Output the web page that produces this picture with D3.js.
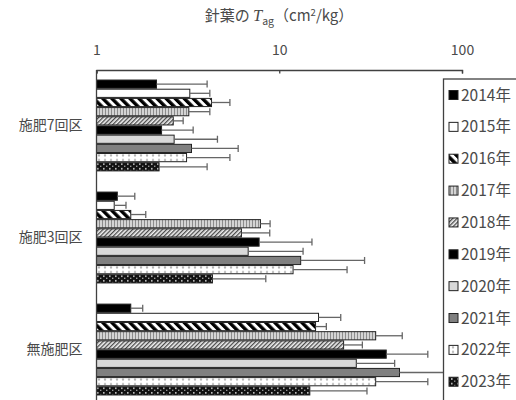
<!DOCTYPE html>
<html><head><meta charset="utf-8">
<script src="https://cdn.jsdelivr.net/npm/d3@7"></script>
<style>
body{margin:0;background:#fff;}
text{font-family:"Noto Sans CJK JP","Noto Sans",sans-serif;fill:#4a4a4a;}
</style></head><body>
<svg id="c" width="516" height="400"></svg>
<script>
const groups = ["施肥7回区","施肥3回区","無施肥区"];
const years = ["2014年","2015年","2016年","2017年","2018年","2019年","2020年","2021年","2022年","2023年"];
const mean7 = [2.13, 3.24, 4.26, 3.2, 2.63, 2.27, 2.66, 3.31, 3.11, 2.2];
const err7  = [1.9, 0.93, 1.11, 0.97, 0.35, 1.11, 1.93, 2.65, 2.26, 1.83];
const mean3 = [1.30, 1.25, 1.54, 7.89, 6.21, 7.76, 6.76, 13.1, 11.9, 4.31];
const err3  = [0.32, 0.2, 0.32, 1.02, 2.66, 7.34, 6.74, 16.2, 11.6, 4.13];
const mean0 = [1.54, 16.4, 15.8, 33.7, 22.5, 38.5, 26.4, 45.5, 33.7, 14.7];
const err0  = [0.25, 5.3, 2.3, 13.4, 6.0, 26.5, 16.4, 34.7, 31.3, 15.5];
const tickVals = [1, 10, 100];

const means = [mean7, mean3, mean0];
const errs = [err7, err3, err0];
const fills = ["#000","#fff","url(#p2016)","url(#p2017)","url(#p2018)","#000","#d9d9d9","#808080","url(#p2022)","url(#p2023)"];

const svg = d3.select("#c");
const defs = svg.append("defs");
let p = defs.append("pattern").attr("id","p2016").attr("patternUnits","userSpaceOnUse")
  .attr("width",6.4).attr("height",6.4).attr("patternTransform","rotate(-45)");
p.append("rect").attr("width",6.4).attr("height",6.4).attr("fill","#fff");
p.append("rect").attr("width",3.4).attr("height",6.4).attr("fill","#000");
p = defs.append("pattern").attr("id","p2017").attr("patternUnits","userSpaceOnUse")
  .attr("width",3).attr("height",3);
p.append("rect").attr("width",3).attr("height",3).attr("fill","#d4d4d4");
p.append("rect").attr("width",1).attr("height",3).attr("fill","#8c8c8c");
p = defs.append("pattern").attr("id","p2018").attr("patternUnits","userSpaceOnUse")
  .attr("width",3).attr("height",3).attr("patternTransform","rotate(45)");
p.append("rect").attr("width",3).attr("height",3).attr("fill","#f0f0f0");
p.append("rect").attr("width",1.3).attr("height",3).attr("fill","#4a4a4a");
p = defs.append("pattern").attr("id","p2022").attr("patternUnits","userSpaceOnUse")
  .attr("width",6).attr("height",4.6);
p.append("rect").attr("width",6).attr("height",4.6).attr("fill","#fff");
p.append("circle").attr("cx",3).attr("cy",2.3).attr("r",1.1).attr("fill","#b0b0b0");
p = defs.append("pattern").attr("id","p2023").attr("patternUnits","userSpaceOnUse")
  .attr("width",6).attr("height",4.6);
p.append("rect").attr("width",6).attr("height",4.6).attr("fill","#111");
p.append("rect").attr("x",1).attr("y",1).attr("width",1.6).attr("height",1.6).attr("fill","#ccc");
p.append("rect").attr("x",4).attr("y",3.3).attr("width",1.4).attr("height",1.3).attr("fill","#999");

const x = d3.scaleLog().domain([1,100]).range([96.5,462]);
const y0 = d3.scaleBand().domain(groups).range([70,405]).paddingInner(0.18).paddingOuter(0.085);
const y1 = d3.scaleBand().domain(years).range([0,y0.bandwidth()]).padding(0);

const t = svg.append("text").attr("x",279).attr("y",21).attr("text-anchor","middle").attr("font-size",15);
t.append("tspan").text("針葉の ");
t.append("tspan").attr("font-style","italic").attr("font-family","Liberation Serif, serif").attr("font-size",16.5).text("T");
t.append("tspan").attr("dy",4).attr("font-size",10.5).text("ag");
t.append("tspan").attr("dy",-4).text("（cm");
t.append("tspan").attr("dy",-5).attr("font-size",9.5).text("2");
t.append("tspan").attr("dy",5).text("/kg）");

groups.forEach((g,gi)=>{
  const gg = svg.append("g").attr("transform",`translate(0,${y0(g)})`);
  years.forEach((yr,i)=>{
    const m = means[gi][i], e = errs[gi][i];
    const yc = y1(yr) + y1.bandwidth()/2;
    gg.append("rect").attr("x",x(1)).attr("y",y1(yr)+0.5).attr("width",x(m)-x(1))
      .attr("height",y1.bandwidth()-1).attr("fill",fills[i]).attr("stroke","#222").attr("stroke-width",1);
    gg.append("line").attr("x1",x(m)).attr("x2",x(m+e)).attr("y1",yc).attr("y2",yc)
      .attr("stroke","#666").attr("stroke-width",1.3);
    gg.append("line").attr("x1",x(m+e)).attr("x2",x(m+e)).attr("y1",yc-3.5).attr("y2",yc+3.5)
      .attr("stroke","#666").attr("stroke-width",1.3);
  });
});

const ax = svg.append("g").attr("transform","translate(0,70)")
  .call(d3.axisTop(x).tickValues(tickVals).tickFormat(d3.format("d")).tickSizeInner(-3.5).tickSizeOuter(-3.5).tickPadding(15));
ax.select(".domain").attr("stroke","#404040").attr("stroke-width",1.3);
ax.selectAll(".tick line").attr("stroke","#404040").attr("stroke-width",1.3);
ax.selectAll("text").attr("font-size",14).attr("fill","#4a4a4a").attr("font-family","Noto Sans CJK JP, sans-serif");

const ay = svg.append("g").attr("transform",`translate(${x(1)},0)`)
  .call(d3.axisLeft(y0).tickSize(0).tickPadding(14));
ay.select(".domain").attr("d","M0,70V400").attr("stroke","#404040").attr("stroke-width",1.3);
ay.selectAll("text").attr("font-size",14).attr("fill","#4a4a4a").attr("font-family","Noto Sans CJK JP, sans-serif");

const lg = svg.append("g");
lg.append("rect").attr("x",443.5).attr("y",79).attr("width",100).attr("height",400)
  .attr("fill","#fff").attr("stroke","#404040").attr("stroke-width",1.3);
years.forEach((yr,i)=>{
  const cy = 95 + i*31.86;
  lg.append("rect").attr("x",449).attr("y",cy-4.5).attr("width",9).attr("height",9)
    .attr("fill",fills[i]).attr("stroke","#222").attr("stroke-width",1);
  lg.append("text").attr("x",461).attr("y",cy).attr("dy","0.36em").attr("font-size",15.5).text(yr);
});
</script>
</body></html>
